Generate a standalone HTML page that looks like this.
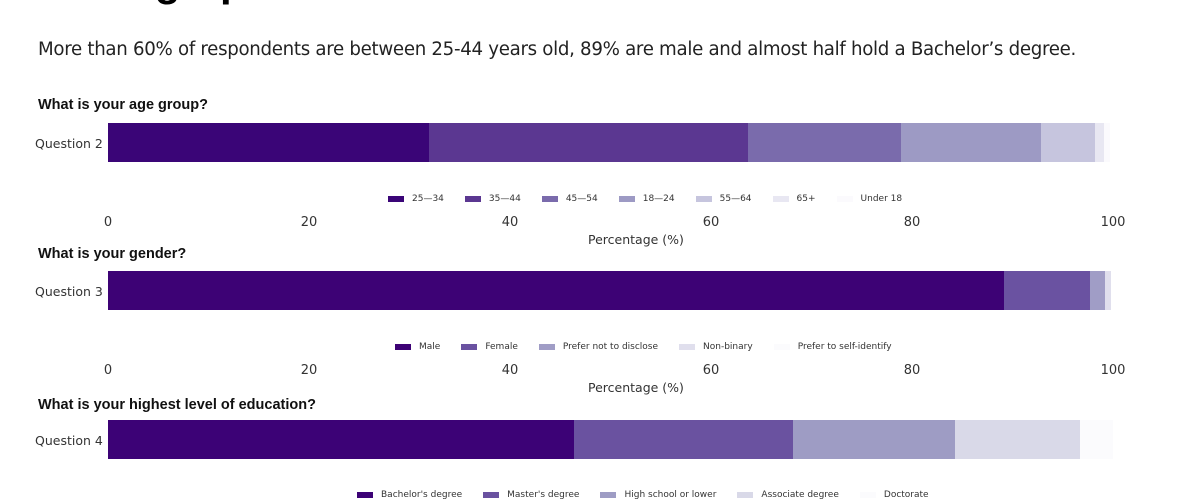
<!DOCTYPE html>
<html><head><meta charset="utf-8"><style>
body{margin:0;width:1200px;height:500px;overflow:hidden;background:#fff;font-family:"Liberation Sans","DejaVu Sans",sans-serif;position:relative}
.a{position:absolute}
.sub{left:38px;top:39px;font-size:18.2px;color:#222;font-family:"DejaVu Sans","Liberation Sans",sans-serif;letter-spacing:-0.3px;white-space:nowrap}
.q{left:38px;font-weight:bold;font-size:14.5px;color:#111}
.yl{left:35px;font-size:12.5px;color:#333;font-family:"DejaVu Sans",sans-serif}
.seg{position:absolute;height:39px}
.tk{font-size:13px;color:#333;font-family:"DejaVu Sans",sans-serif;transform:translateX(-50%)}
.xl{font-size:12.5px;color:#333;font-family:"DejaVu Sans",sans-serif;left:588px}
.lg{font-size:9px;color:#333;font-family:"DejaVu Sans",sans-serif;white-space:nowrap}
.lg span{display:inline-block;width:16px;height:6px;margin-right:8px;vertical-align:middle}
.lg b{font-weight:normal;margin-right:21px}
</style></head><body>
<div class="a" style="left:38px;top:-42px;font-size:42px;font-weight:bold;color:#000">Demographics</div>
<div class="a sub">More than 60% of respondents are between 25-44 years old, 89% are male and almost half hold a Bachelor’s degree.</div>

<div class="a q" style="top:97px">What is your age group?</div>
<div class="a yl" style="top:136px">Question 2</div>
<div class="a" style="left:0;top:123px">
<div class="seg" style="left:108px;width:321px;background:#3a0577"></div>
<div class="seg" style="left:429px;width:319px;background:#5b3791"></div>
<div class="seg" style="left:748px;width:153px;background:#7a6bac"></div>
<div class="seg" style="left:901px;width:140px;background:#9d9ac4"></div>
<div class="seg" style="left:1041px;width:54px;background:#c6c5de"></div>
<div class="seg" style="left:1095px;width:9px;background:#e8e7f2"></div>
<div class="seg" style="left:1104px;width:6px;background:#fbfafd"></div>
</div>
<div class="a lg" style="left:388px;top:194px"><span style="background:#3a0577"></span><b>25—34</b><span style="background:#5b3791"></span><b>35—44</b><span style="background:#7a6bac"></span><b>45—54</b><span style="background:#9d9ac4"></span><b>18—24</b><span style="background:#c6c5de"></span><b>55—64</b><span style="background:#e8e7f2"></span><b>65+</b><span style="background:#fbfafd"></span><b>Under 18</b></div>
<div class="a tk" style="left:108px;top:215px">0</div><div class="a tk" style="left:309px;top:215px">20</div><div class="a tk" style="left:510px;top:215px">40</div><div class="a tk" style="left:711px;top:215px">60</div><div class="a tk" style="left:912px;top:215px">80</div><div class="a tk" style="left:1113px;top:215px">100</div>
<div class="a xl" style="top:232px">Percentage (%)</div>

<div class="a q" style="top:246px">What is your gender?</div>
<div class="a yl" style="top:284px">Question 3</div>
<div class="a" style="left:0;top:271px">
<div class="seg" style="left:108px;width:896px;background:#3d0275"></div>
<div class="seg" style="left:1004px;width:86px;background:#6a52a1"></div>
<div class="seg" style="left:1090px;width:15px;background:#a09dc6"></div>
<div class="seg" style="left:1105px;width:6px;background:#e0dfed"></div>
</div>
<div class="a lg" style="left:395px;top:342px"><span style="background:#3d0275"></span><b>Male</b><span style="background:#6a52a1"></span><b>Female</b><span style="background:#a09dc6"></span><b>Prefer not to disclose</b><span style="background:#e0dfed"></span><b>Non-binary</b><span style="background:#fbfbfd"></span><b>Prefer to self-identify</b></div>
<div class="a tk" style="left:108px;top:363px">0</div><div class="a tk" style="left:309px;top:363px">20</div><div class="a tk" style="left:510px;top:363px">40</div><div class="a tk" style="left:711px;top:363px">60</div><div class="a tk" style="left:912px;top:363px">80</div><div class="a tk" style="left:1113px;top:363px">100</div>
<div class="a xl" style="top:380px">Percentage (%)</div>

<div class="a q" style="top:397px">What is your highest level of education?</div>
<div class="a yl" style="top:433px">Question 4</div>
<div class="a" style="left:0;top:420px">
<div class="seg" style="left:108px;width:466px;background:#3c0276"></div>
<div class="seg" style="left:574px;width:219px;background:#6a52a0"></div>
<div class="seg" style="left:793px;width:162px;background:#9e9cc4"></div>
<div class="seg" style="left:955px;width:125px;background:#d9d9e8"></div>
<div class="seg" style="left:1080px;width:33px;background:#fbfbfd"></div>
</div>
<div class="a lg" style="left:357px;top:490px"><span style="background:#3c0276"></span><b>Bachelor's degree</b><span style="background:#6a52a0"></span><b>Master's degree</b><span style="background:#9e9cc4"></span><b>High school or lower</b><span style="background:#d9d9e8"></span><b>Associate degree</b><span style="background:#fbfbfd"></span><b>Doctorate</b></div>
</body></html>
